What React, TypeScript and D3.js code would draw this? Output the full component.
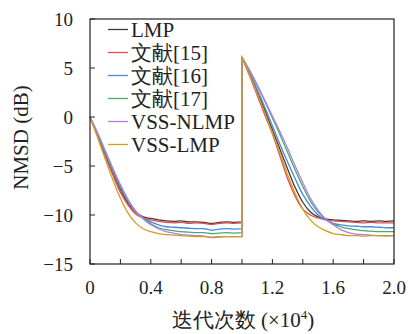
import * as d3 from "d3";

const width = 408;
const height = 334;
const margin = { top: 19, right: 14, bottom: 70, left: 90 };

const seriesNames = ["LMP", "文献[15]", "文献[16]", "文献[17]", "VSS-NLMP", "VSS-LMP"];
const seriesColors = ["#3d3d3d", "#f04848", "#4a86e2", "#48ab6e", "#b37ce8", "#d19e1e"];

// iterations (x10^4), first half then after the jump
const xs1 = [0, 0.05, 0.1, 0.15, 0.2, 0.25, 0.3, 0.35, 0.4, 0.45, 0.5, 0.55, 0.6, 0.65, 0.7, 0.75, 0.8, 0.85, 0.9, 0.95, 1.0];
const xs2 = [1.0, 1.05, 1.1, 1.15, 1.2, 1.25, 1.3, 1.35, 1.4, 1.45, 1.5, 1.55, 1.6, 1.65, 1.7, 1.75, 1.8, 1.85, 1.9, 1.95, 2.0];

const lmp1 = [0, -1.9, -3.8, -5.7, -7.4, -8.8, -9.7, -10.2, -10.35, -10.5, -10.6, -10.65, -10.6, -10.7, -10.7, -10.75, -10.85, -10.75, -10.7, -10.75, -10.7];
const ref15_1 = [0, -2.0, -4.0, -5.9, -7.7, -9.0, -9.9, -10.3, -10.5, -10.65, -10.75, -10.8, -10.75, -10.85, -10.8, -10.85, -10.95, -10.85, -10.8, -10.85, -10.8];
const ref16_1 = [0, -1.8, -3.7, -5.5, -7.2, -8.6, -9.6, -10.3, -10.7, -11.0, -11.2, -11.25, -11.3, -11.35, -11.4, -11.4, -11.55, -11.45, -11.4, -11.45, -11.4];
const ref17_1 = [0, -1.7, -3.6, -5.4, -7.1, -8.5, -9.6, -10.3, -10.9, -11.3, -11.5, -11.6, -11.7, -11.75, -11.8, -11.8, -11.9, -11.85, -11.8, -11.85, -11.8];
const vssNlmp1 = [0, -1.6, -3.4, -5.2, -6.9, -8.4, -9.6, -10.4, -11.0, -11.4, -11.7, -11.85, -12.0, -12.05, -12.1, -12.15, -12.3, -12.25, -12.2, -12.2, -12.2];
const vssLmp1 = [0, -2.1, -4.3, -6.4, -8.3, -9.8, -10.8, -11.4, -11.7, -11.9, -12.0, -12.05, -12.1, -12.15, -12.2, -12.2, -12.25, -12.2, -12.2, -12.2, -12.2];

const lmp2 = [6.1, 4.4, 2.6, 0.7, -1.3, -3.3, -5.3, -7.2, -8.7, -9.7, -10.2, -10.4, -10.5, -10.55, -10.6, -10.65, -10.6, -10.65, -10.6, -10.65, -10.6];
const ref15_2 = [6.1, 4.2, 2.2, 0.2, -1.7, -4.0, -6.3, -8.1, -9.4, -10.0, -10.3, -10.5, -10.6, -10.65, -10.7, -10.75, -10.8, -10.75, -10.8, -10.8, -10.8];
const ref16_2 = [6.1, 4.5, 2.8, 1.0, -0.9, -2.8, -4.6, -6.3, -7.9, -9.1, -10.0, -10.5, -10.85, -11.0, -11.1, -11.15, -11.2, -11.2, -11.25, -11.3, -11.3];
const ref17_2 = [6.1, 4.7, 3.2, 1.6, -0.1, -1.8, -3.6, -5.4, -7.1, -8.6, -9.7, -10.4, -10.9, -11.2, -11.4, -11.5, -11.6, -11.65, -11.7, -11.7, -11.7];
const vssNlmp2 = [6.1, 4.8, 3.3, 1.7, 0.1, -1.5, -3.2, -5.0, -6.7, -8.3, -9.5, -10.4, -11.0, -11.5, -11.8, -11.95, -12.0, -12.05, -12.1, -12.1, -12.1];
const vssLmp2 = [6.1, 4.3, 2.4, 0.4, -1.6, -3.7, -5.9, -7.8, -9.4, -10.5, -11.2, -11.6, -11.9, -12.0, -12.1, -12.1, -12.15, -12.1, -12.1, -12.15, -12.1];

const firstHalf = [lmp1, ref15_1, ref16_1, ref17_1, vssNlmp1, vssLmp1];
const secondHalf = [lmp2, ref15_2, ref16_2, ref17_2, vssNlmp2, vssLmp2];

const xTicks = [0, 0.2, 0.4, 0.6, 0.8, 1.0, 1.2, 1.4, 1.6, 1.8, 2.0];
const xTickLabels = [0, 0.4, 0.8, 1.2, 1.6, 2.0];
const yTicks = [10, 5, 0, -5, -10, -15];

const txt = { fontFamily: `"Liberation Serif"`, fill: "#222" };

export default function App() {
    const innerW = width - margin.left - margin.right;
    const innerH = height - margin.top - margin.bottom;

    const x = d3.scaleLinear().domain([0, 2]).range([margin.left, margin.left + innerW]);
    const y = d3.scaleLinear().domain([-15, 10]).range([margin.top + innerH, margin.top]);

    const line = d3
        .line<[number, number]>()
        .x((d) => x(d[0]))
        .y((d) => y(d[1]))
        .curve(d3.curveMonotoneX);

    const paths = seriesNames.map((_, i) => {
        const a = line(xs1.map((v, j) => [v, firstHalf[i][j]] as [number, number])) || "";
        const b = line(xs2.map((v, j) => [v, secondHalf[i][j]] as [number, number])) || "";
        return a + b.replace(/^M/, "L");
    });

    const left = margin.left;
    const bottom = margin.top + innerH;

    return (
        <svg
            width={width}
            height={height}
            style={{ position: "absolute", left: 0, top: 0, background: "#fff" }}
        >
            {/* curves */}
            <g fill="none" strokeWidth={1.3}>
                {paths.map((d, i) => (
                    <path key={i} d={d} stroke={seriesColors[i]} />
                ))}
            </g>

            {/* frame */}
            <rect
                x={left}
                y={margin.top}
                width={innerW}
                height={innerH}
                fill="none"
                stroke="#222"
                strokeWidth={1.2}
            />

            {/* ticks */}
            <g stroke="#222" strokeWidth={1}>
                {xTicks.map((t) => (
                    <line key={t} x1={x(t)} x2={x(t)} y1={bottom} y2={bottom - 5} />
                ))}
                {yTicks.map((t) => (
                    <line key={t} x1={left} x2={left + 5} y1={y(t)} y2={y(t)} />
                ))}
            </g>

            {/* tick labels */}
            {xTickLabels.map((t) => (
                <text key={t} x={x(t)} y={bottom + 30} textAnchor="middle" fontSize={19} style={txt}>
                    {t === 0 ? "0" : t.toFixed(1)}
                </text>
            ))}
            {yTicks.map((t) => (
                <text key={t} x={left - 17} y={y(t) + 6.5} textAnchor="end" fontSize={19} style={txt}>
                    {t < 0 ? "\u2212" + Math.abs(t) : String(t)}
                </text>
            ))}

            {/* axis labels */}
            <text
                transform={`translate(28, ${margin.top + innerH / 2 - 4}) rotate(-90)`}
                textAnchor="middle"
                fontSize={21}
                style={txt}
            >
                NMSD (dB)
            </text>
            <text x={left + innerW / 2 + 1} y={327} textAnchor="middle" fontSize={21} style={txt}>
                迭代次数 (×10<tspan dy={-8} fontSize={13}>4</tspan>
                <tspan dy={8}>)</tspan>
            </text>

            {/* legend */}
            {seriesNames.map((name, i) => {
                const ly = 29.5 + i * 23;
                return (
                    <g key={name}>
                        <line x1={108} x2={128} y1={ly} y2={ly} stroke={seriesColors[i]} strokeWidth={1.3} />
                        <text x={131} y={ly + 7} fontSize={21} style={txt}>
                            {name}
                        </text>
                    </g>
                );
            })}
        </svg>
    );
}
